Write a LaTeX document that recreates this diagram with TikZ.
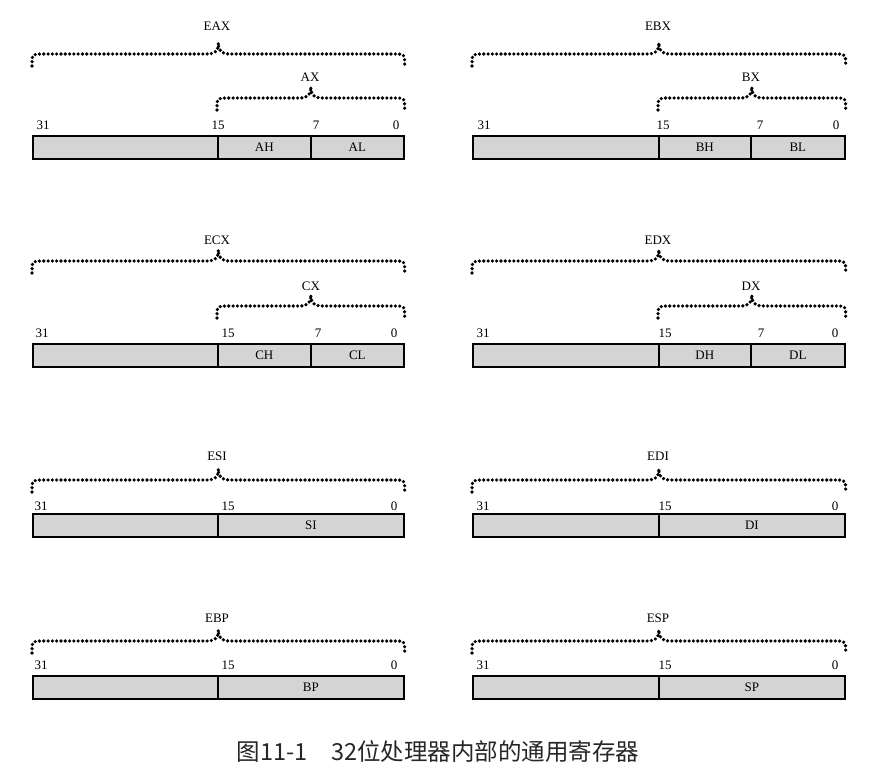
\documentclass[tikz,border=0pt]{standalone}
\usepackage{fontspec}
\setmainfont{Liberation Serif}
\newfontfamily\cjk{Noto Sans CJK SC}
\usetikzlibrary{calc}
\begin{document}
\begin{tikzpicture}[x=1pt,y=-1pt,
  cell/.style={draw,line width=1.7pt,fill=black!17,minimum height=23pt,anchor=north west,inner sep=0pt,font=\fontsize{13}{15}\selectfont},
  brc/.style={line width=3.6pt,dash pattern=on 0pt off 4.3pt,line cap=round,
    to path={let \p1=(\tikztostart), \p2=(\tikztotarget), \p3=($(\tikztostart)!0.5!(\tikztotarget)$) in
      .. controls (\x1,\y1+12pt) .. (\x1+10pt,\y1+12pt) -- (\x3-12pt,\y1+12pt)
      .. controls (\x3-3pt,\y1+12pt) and (\x3,\y1+15pt) .. (\x3,\y1+23pt)
      .. controls (\x3,\y1+15pt) and (\x3+3pt,\y1+12pt) .. (\x3+12pt,\y1+12pt)
      -- (\x2-10pt,\y1+12pt) .. controls (\x2,\y1+12pt) .. (\x2,\y2)}},
  bit/.style={font=\fontsize{13}{15}\selectfont},
  lab/.style={font=\fontsize{13}{15}\selectfont}]
\useasboundingbox (0,0) rectangle (873,778);
% EAX
\node[cell,minimum width=185pt] (eaxhi) at (32,135) {};
\node[cell,minimum width=93pt] (ah) at (217,135) {AH};
\node[cell,minimum width=93pt] (al) at (310,135) {AL};
\draw[brc] ([yshift=69pt]eaxhi.north west) to ([yshift=69pt]al.north east);
\draw[brc] ([yshift=25pt]ah.north west) to ([yshift=25pt]al.north east);
\node[lab] (eax) at (217,26) {EAX};
\node[lab] (ax) at (310,77) {AX};
\node[bit] (a31) at (43,125) {31};
\node[bit] (a15) at (218,125) {15};
\node[bit] (a7) at (316,125) {7};
\node[bit] (a0) at (396,125) {0};
% EBX
\node[cell,minimum width=186pt] (ebxhi) at (472,135) {};
\node[cell,minimum width=92pt] (bh) at (658,135) {BH};
\node[cell,minimum width=94pt] (bl) at (750,135) {BL};
\draw[brc] ([yshift=69pt]ebxhi.north west) to ([yshift=69pt]bl.north east);
\draw[brc] ([yshift=25pt]bh.north west) to ([yshift=25pt]bl.north east);
\node[lab] (ebx) at (658,26) {EBX};
\node[lab] (bx) at (751,77) {BX};
\node[bit] (b31) at (484,125) {31};
\node[bit] (b15) at (663,125) {15};
\node[bit] (b7) at (760,125) {7};
\node[bit] (b0) at (836,125) {0};
% ECX
\node[cell,minimum width=185pt] (ecxhi) at (32,343) {};
\node[cell,minimum width=93pt] (ch) at (217,343) {CH};
\node[cell,minimum width=93pt] (cl) at (310,343) {CL};
\draw[brc] ([yshift=70pt]ecxhi.north west) to ([yshift=70pt]cl.north east);
\draw[brc] ([yshift=25pt]ch.north west) to ([yshift=25pt]cl.north east);
\node[lab] (ecx) at (217,240) {ECX};
\node[lab] (cx) at (311,286) {CX};
\node[bit] (c31) at (42,333) {31};
\node[bit] (c15) at (228,333) {15};
\node[bit] (c7) at (318,333) {7};
\node[bit] (c0) at (394,333) {0};
% EDX
\node[cell,minimum width=186pt] (edxhi) at (472,343) {};
\node[cell,minimum width=92pt] (dh) at (658,343) {DH};
\node[cell,minimum width=94pt] (dl) at (750,343) {DL};
\draw[brc] ([yshift=70pt]edxhi.north west) to ([yshift=70pt]dl.north east);
\draw[brc] ([yshift=25pt]dh.north west) to ([yshift=25pt]dl.north east);
\node[lab] (edx) at (658,240) {EDX};
\node[lab] (dx) at (751,286) {DX};
\node[bit] (d31) at (483,333) {31};
\node[bit] (d15) at (665,333) {15};
\node[bit] (d7) at (761,333) {7};
\node[bit] (d0) at (835,333) {0};
% ESI
\node[cell,minimum width=185pt] (esihi) at (32,513) {};
\node[cell,minimum width=186pt] (si) at (217,513) {SI};
\draw[brc] ([yshift=21pt]esihi.north west) to ([yshift=21pt]si.north east);
\node[lab] (esi) at (217,456) {ESI};
\node[bit] (s31) at (41,506) {31};
\node[bit] (s15) at (228,506) {15};
\node[bit] (s0) at (394,506) {0};
% EDI
\node[cell,minimum width=186pt] (edihi) at (472,513) {};
\node[cell,minimum width=186pt] (di) at (658,513) {DI};
\draw[brc] ([yshift=21pt]edihi.north west) to ([yshift=21pt]di.north east);
\node[lab] (edi) at (658,456) {EDI};
\node[bit] (i31) at (483,506) {31};
\node[bit] (i15) at (665,506) {15};
\node[bit] (i0) at (835,506) {0};
% EBP
\node[cell,minimum width=185pt] (ebphi) at (32,675) {};
\node[cell,minimum width=186pt] (bp) at (217,675) {BP};
\draw[brc] ([yshift=22pt]ebphi.north west) to ([yshift=22pt]bp.north east);
\node[lab] (ebp) at (217,618) {EBP};
\node[bit] (p31) at (41,665) {31};
\node[bit] (p15) at (228,665) {15};
\node[bit] (p0) at (394,665) {0};
% ESP
\node[cell,minimum width=186pt] (esphi) at (472,675) {};
\node[cell,minimum width=186pt] (sp) at (658,675) {SP};
\draw[brc] ([yshift=22pt]esphi.north west) to ([yshift=22pt]sp.north east);
\node[lab] (esp) at (658,618) {ESP};
\node[bit] (q31) at (483,665) {31};
\node[bit] (q15) at (665,665) {15};
\node[bit] (q0) at (835,665) {0};
% caption
\node[font=\cjk\fontsize{23.5}{27}\selectfont,text=black!85] (cap) at (438,752) {图11-1\hspace{1em}32位处理器内部的通用寄存器};
\end{tikzpicture}
\end{document}
